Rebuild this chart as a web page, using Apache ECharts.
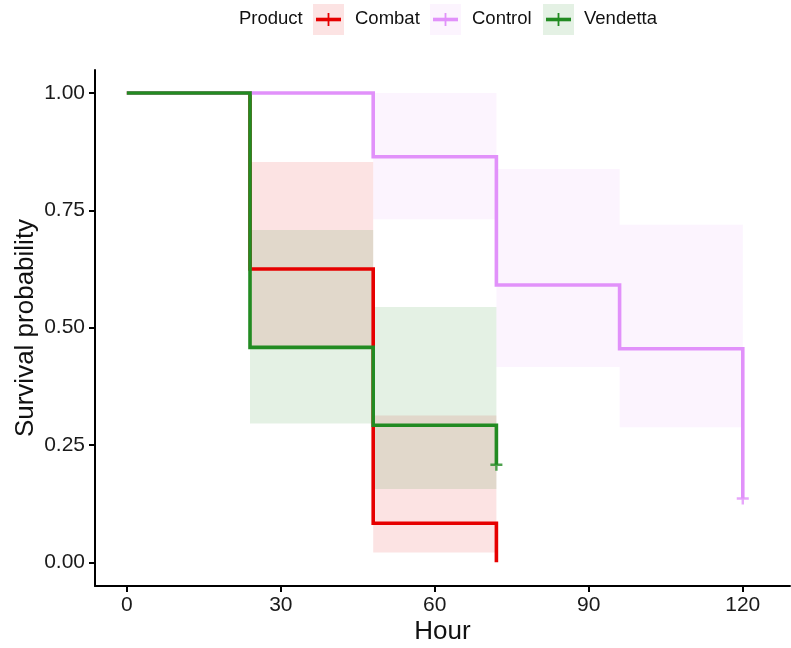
<!DOCTYPE html>
<html>
<head>
<meta charset="utf-8">
<script src="https://cdn.jsdelivr.net/npm/echarts@6/dist/echarts.min.js"></script>
<style>
  html, body { margin: 0; padding: 0; background: #fff; }
  #chart { width: 791px; height: 648px; }
</style>
</head>
<body>
<div id="chart"></div>
<script>
// Kaplan–Meier survival by product (hours)
const groups = ['Combat', 'Control', 'Vendetta'];

// step times and survival estimates
const combatTime = [0, 24, 48, 72];
const combatSurv = [1.0, 0.625, 0.0833, 0.0];
const controlTime = [0, 48, 72, 96, 120];
const controlSurv = [1.0, 0.864, 0.591, 0.455, 0.136];
const vendettaTime = [0, 24, 48, 72];
const vendettaSurv = [1.0, 0.458, 0.292, 0.208];

// confidence bands: [start, end, lower, upper]
const combatBand = [[24, 48, 0.455, 0.853], [48, 72, 0.021, 0.313]];
const controlBand = [[48, 72, 0.731, 1.0], [72, 96, 0.416, 0.838], [96, 120, 0.288, 0.719]];
const vendettaBand = [[24, 48, 0.296, 0.708], [48, 72, 0.156, 0.544]];

// censored observations [time, survival]
const combatCensor = [];
const controlCensor = [[120, 0.136]];
const vendettaCensor = [[72, 0.208]];

const xTicks = [0, 30, 60, 90, 120];
const yTicks = [0, 0.25, 0.5, 0.75, 1.0];

const lineColors = { Combat: '#e60000', Control: '#e191fa', Vendetta: '#228b22' };
const bandColors = {
  Combat: 'rgba(230,0,0,0.11)',
  Control: 'rgba(225,145,250,0.1)',
  Vendetta: 'rgba(34,139,34,0.12)'
};

const data = {
  Combat: { t: combatTime, s: combatSurv, band: combatBand, cens: combatCensor },
  Control: { t: controlTime, s: controlSurv, band: controlBand, cens: controlCensor },
  Vendetta: { t: vendettaTime, s: vendettaSurv, band: vendettaBand, cens: vendettaCensor }
};

const FONT = '"Liberation Sans", Arial, sans-serif';

// build a right-continuous step path from times and estimates
function stepPath(t, s) {
  const pts = [[t[0], s[0]]];
  for (let i = 1; i < t.length; i++) {
    pts.push([t[i], s[i - 1]]);
    pts.push([t[i], s[i]]);
  }
  return pts;
}

const series = [];
groups.forEach(g => {
  series.push({
    type: 'custom',
    name: g + ' band',
    silent: true,
    z: 1,
    data: data[g].band,
    encode: { x: [0, 1], y: [2, 3] },
    renderItem: function (params, api) {
      const p0 = api.coord([api.value(0), api.value(3)]);
      const p1 = api.coord([api.value(1), api.value(2)]);
      return {
        type: 'rect',
        shape: { x: p0[0], y: p0[1], width: p1[0] - p0[0], height: p1[1] - p0[1] },
        style: { fill: bandColors[g] }
      };
    }
  });
});
groups.forEach(g => {
  series.push({
    type: 'line',
    name: g,
    z: 3,
    data: stepPath(data[g].t, data[g].s),
    symbol: 'none',
    lineStyle: { color: lineColors[g], width: 3.6, join: 'miter' },
    silent: true
  });
});
groups.forEach(g => {
  if (!data[g].cens.length) return;
  series.push({
    type: 'scatter',
    name: g + ' censor',
    z: 4,
    data: data[g].cens,
    symbol: 'path://M4,0L6,0L6,4L10,4L10,6L6,6L6,10L4,10L4,6L0,6L0,4L4,4Z',
    symbolSize: 12,
    itemStyle: { color: lineColors[g] },
    silent: true
  });
});

// legend: title, then a tinted box holding line + cross for each group
const legendItems = [
  { name: 'Combat', x: 313, tx: 355 },
  { name: 'Control', x: 430, tx: 472 },
  { name: 'Vendetta', x: 543, tx: 584 }
];
const graphics = [{
  type: 'text', left: 239, top: 9,
  style: { text: 'Product', font: '18.5px ' + FONT, fill: '#111' }
}];
legendItems.forEach(it => {
  graphics.push({
    type: 'rect', shape: { x: it.x, y: 4, width: 31, height: 31 },
    style: { fill: bandColors[it.name] }
  });
  graphics.push({
    type: 'line', shape: { x1: it.x + 3, y1: 19.5, x2: it.x + 28, y2: 19.5 },
    style: { stroke: lineColors[it.name], lineWidth: 3.6 }
  });
  graphics.push({
    type: 'line', shape: { x1: it.x + 15.5, y1: 13, x2: it.x + 15.5, y2: 26 },
    style: { stroke: lineColors[it.name], lineWidth: 1.8 }
  });
  graphics.push({
    type: 'text', left: it.tx, top: 9,
    style: { text: it.name, font: '18.5px ' + FONT, fill: '#111' }
  });
});

const chart = echarts.init(document.getElementById('chart'), null, { renderer: 'canvas' });
chart.setOption({
  animation: false,
  backgroundColor: '#fff',
  grid: {
    left: 95, right: 1, top: 70, bottom: 62,
    containLabel: false, outerBoundsMode: 'none'
  },
  xAxis: {
    type: 'value',
    min: -6.2, max: 129.2,
    name: 'Hour',
    nameLocation: 'middle',
    nameGap: 33,
    nameMoveOverlap: false,
    nameTextStyle: { fontSize: 26, color: '#111', fontFamily: FONT },
    axisLine: { show: true, onZero: false, lineStyle: { color: '#000', width: 2 } },
    axisTick: { show: true, length: 6, lineStyle: { color: '#000', width: 2 }, customValues: xTicks },
    axisLabel: {
      customValues: xTicks, fontSize: 21, color: '#1a1a1a', margin: 9, fontFamily: FONT
    },
    splitLine: { show: false }
  },
  yAxis: {
    type: 'value',
    min: -0.0505, max: 1.049,
    name: 'Survival probability',
    nameLocation: 'middle',
    nameGap: 56,
    nameMoveOverlap: false,
    nameTextStyle: { fontSize: 26, color: '#111', fontFamily: FONT },
    axisLine: { show: true, onZero: false, lineStyle: { color: '#000', width: 2 } },
    axisTick: { show: true, length: 6, lineStyle: { color: '#000', width: 2 }, customValues: yTicks },
    axisLabel: {
      customValues: yTicks, fontSize: 21, color: '#1a1a1a', margin: 10, fontFamily: FONT,
      formatter: v => v.toFixed(2)
    },
    splitLine: { show: false }
  },
  graphic: graphics,
  series: series
});
</script>
</body>
</html>
